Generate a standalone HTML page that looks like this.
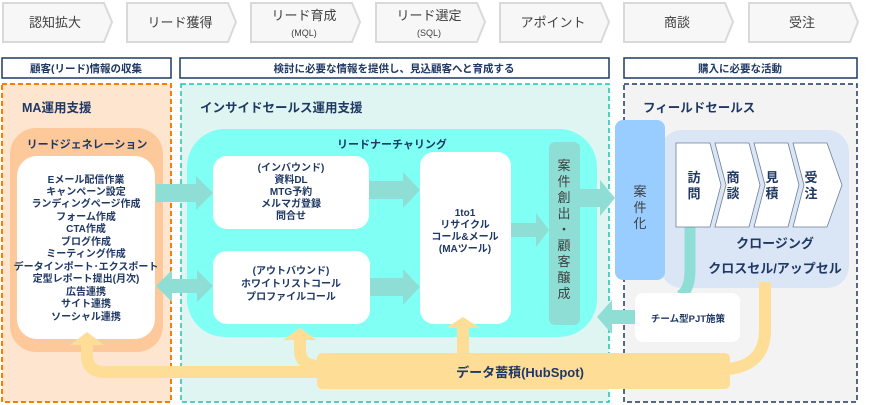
<!DOCTYPE html>
<html><head><meta charset="utf-8"><style>
html,body{margin:0;padding:0;background:#fff;width:886px;height:405px;overflow:hidden}
svg{display:block}
text{font-family:"Liberation Sans","Noto Sans CJK JP",sans-serif;fill:#1f3864;font-weight:bold}
.g{fill:#404040;font-weight:normal}
</style></head><body>
<svg width="886" height="405" viewBox="0 0 886 405" xmlns="http://www.w3.org/2000/svg">
<g fill="#f7f7f7" stroke="#d9d9d9" stroke-width="2">
<path d="M3,3 H104 L112,22 L104,42 H3 Z"/>
<path d="M127,3 H228 L236,22 L228,42 H127 Z"/>
<path d="M251,3 H352 L360,22 L352,42 H251 Z"/>
<path d="M376,3 H477 L485,22 L477,42 H376 Z"/>
<path d="M500,3 H601 L609,22 L601,42 H500 Z"/>
<path d="M624,3 H725 L733,22 L725,42 H624 Z"/>
<path d="M749,3 H850 L858,22 L850,42 H749 Z"/>
</g>
<g font-size="13" text-anchor="middle">
<text class="g" x="55" y="27">認知拡大</text>
<text class="g" x="180" y="27">リード獲得</text>
<text class="g" x="304" y="20">リード育成</text>
<text class="g" x="304" y="36" font-size="9">(MQL)</text>
<text class="g" x="429" y="20">リード選定</text>
<text class="g" x="429" y="36" font-size="9">(SQL)</text>
<text class="g" x="553" y="27">アポイント</text>
<text class="g" x="677" y="27">商談</text>
<text class="g" x="802" y="27">受注</text>
</g>
<g fill="#fff" stroke="#1f3864" stroke-width="1.5">
<rect x="2" y="58" width="169" height="20"/>
<rect x="180" y="58" width="429" height="20"/>
<rect x="624" y="58" width="233" height="20"/>
</g>
<g font-size="10.5" text-anchor="middle">
<text x="86" y="72">顧客(リード)情報の収集</text>
<text x="394" y="72">検討に必要な情報を提供し、見込顧客へと育成する</text>
<text x="740" y="72">購入に必要な活動</text>
</g>
<rect x="2" y="84" width="169" height="318" fill="#fde5cf" stroke="#f77f00" stroke-width="2" stroke-dasharray="5,3"/>
<rect x="181" y="84" width="428" height="318" fill="#dff5f2" stroke="#1cc3b3" stroke-width="1.5" stroke-dasharray="5,3"/>
<rect x="624" y="84" width="233" height="318" fill="#f3f3f3" stroke="#1f3864" stroke-width="1.5" stroke-dasharray="5,3"/>
<g font-size="12.5">
<text x="22" y="112">MA運用支援</text>
<text x="200" y="112">インサイドセールス運用支援</text>
<text x="643" y="112">フィールドセールス</text>
</g>
<rect x="10" y="128" width="153" height="224" rx="26" fill="#fdc99a"/>
<text x="87" y="148" font-size="11" text-anchor="middle">リードジェネレーション</text>
<rect x="17" y="156" width="138" height="183" rx="20" fill="#fff"/>
<g font-size="10" text-anchor="middle">
<text x="86" y="183">Eメール配信作業</text>
<text x="86" y="195">キャンペーン設定</text>
<text x="86" y="207">ランディングページ作成</text>
<text x="86" y="220">フォーム作成</text>
<text x="86" y="232">CTA作成</text>
<text x="86" y="245">ブログ作成</text>
<text x="86" y="257">ミーティング作成</text>
<text x="86" y="270">データインポート･エクスポート</text>
<text x="86" y="282">定型レポート提出(月次)</text>
<text x="86" y="295">広告連携</text>
<text x="86" y="307">サイト連携</text>
<text x="86" y="320">ソーシャル連携</text>
</g>
<rect x="187" y="129" width="410" height="208" rx="38" fill="#80fff4"/>
<text x="392" y="148" font-size="11" text-anchor="middle">リードナーチャリング</text>
<g fill="#8fded6">
<path d="M156,184 H196 V176 L213,193 L196,210 V202 H156 Z"/>
<path d="M156,286 L172,270 V279 H197 V270 L213,286 L197,302 V293 H172 V302 Z"/>
<path d="M369,181 H403 V172 L420,190 L403,208 V199 H369 Z"/>
<path d="M369,278 H403 V269 L420,287 L403,305 V296 H369 Z"/>
<path d="M511,223 H536 V213 L549,230 L536,247 V237 H511 Z"/>
<path d="M580,189 H600 V180 L615,198 L600,216 V207 H580 Z"/>
<path d="M635,310 H612 V300 L597,317 L612,334 V324 H635 Z"/>
</g>
<rect x="213" y="156" width="156" height="73" rx="14" fill="#fff"/>
<rect x="213" y="251" width="157" height="73" rx="14" fill="#fff"/>
<rect x="420" y="152" width="91" height="172" rx="14" fill="#fff"/>
<rect x="549" y="142" width="31" height="183" rx="6" fill="#8fded6"/>
<g font-size="10" text-anchor="middle">
<text x="291" y="171">(インバウンド)</text>
<text x="291" y="183">資料DL</text>
<text x="291" y="195">MTG予約</text>
<text x="291" y="207">メルマガ登録</text>
<text x="291" y="219">問合せ</text>
<text x="291" y="274">(アウトバウンド)</text>
<text x="291" y="287">ホワイトリストコール</text>
<text x="291" y="300">プロファイルコール</text>
<text x="465" y="216">1to1</text>
<text x="465" y="228">リサイクル</text>
<text x="465" y="240">コール&amp;メール</text>
<text x="465" y="252">(MAツール)</text>
</g>
<g font-size="13" text-anchor="middle">
<text class="g" x="564" y="170">案</text><text class="g" x="564" y="186">件</text><text class="g" x="564" y="202">創</text><text class="g" x="564" y="218">出</text><text class="g" x="564" y="234">・</text><text class="g" x="564" y="250">顧</text><text class="g" x="564" y="266">客</text><text class="g" x="564" y="282">醸</text><text class="g" x="564" y="298">成</text>
</g>
<rect x="660" y="130" width="189" height="158" rx="22" fill="#dae6f5"/>
<rect x="615" y="120" width="50" height="160" rx="8" fill="#99ccff"/>
<g font-size="13" text-anchor="middle">
<text class="g" x="640" y="196">案</text><text class="g" x="640" y="212">件</text><text class="g" x="640" y="228">化</text>
</g>
<path d="M690,226 V270 Q690,290 680,296" stroke="#8fded6" stroke-width="11" fill="none"/>
<g fill="#fff" stroke="#6d7f99" stroke-width="0.8">
<path d="M676,143 H710 L721,185 L710,227 H676 Z"/>
<path d="M715,143 H749 L760,185 L749,227 H715 L726,185 Z"/>
<path d="M754,143 H788 L799,185 L788,227 H754 L765,185 Z"/>
<path d="M793,143 H827 L842,185 L827,227 H793 L804,185 Z"/>
</g>
<g font-size="13" text-anchor="middle">
<text x="694" y="182">訪</text><text x="694" y="198">問</text>
<text x="733" y="182">商</text><text x="733" y="198">談</text>
<text x="772" y="182">見</text><text x="772" y="198">積</text>
<text x="811" y="182">受</text><text x="811" y="198">注</text>
</g>
<text x="775" y="248" font-size="13" text-anchor="middle">クロージング</text>
<text x="775" y="273" font-size="13" text-anchor="middle">クロスセル/アップセル</text>
<rect x="635" y="293" width="105" height="49" rx="8" fill="#fff"/>
<text x="688" y="322" font-size="9.5" text-anchor="middle">チーム型PJT施策</text>
<g fill="none" stroke="#fedd97" stroke-width="12">
<path d="M320,372 H105 Q87,372 87,355 V345"/>
<path d="M320,366 Q300,366 300,350 V340"/>
<path d="M463,356 V325"/>
<path d="M728,369 Q765,365 765,330 V282"/>
</g>
<g fill="#fedd97">
<path d="M70,345 L87,332 L104,345 Z"/>
<path d="M283,340 L300,328 L317,340 Z"/>
<path d="M446,328 L463,317 L480,328 Z"/>
</g>
<rect x="317" y="353" width="413" height="36" rx="5" fill="#fedd97"/>
<text x="520" y="377" font-size="13" text-anchor="middle">データ蓄積(HubSpot)</text>
</svg>
</body></html>
